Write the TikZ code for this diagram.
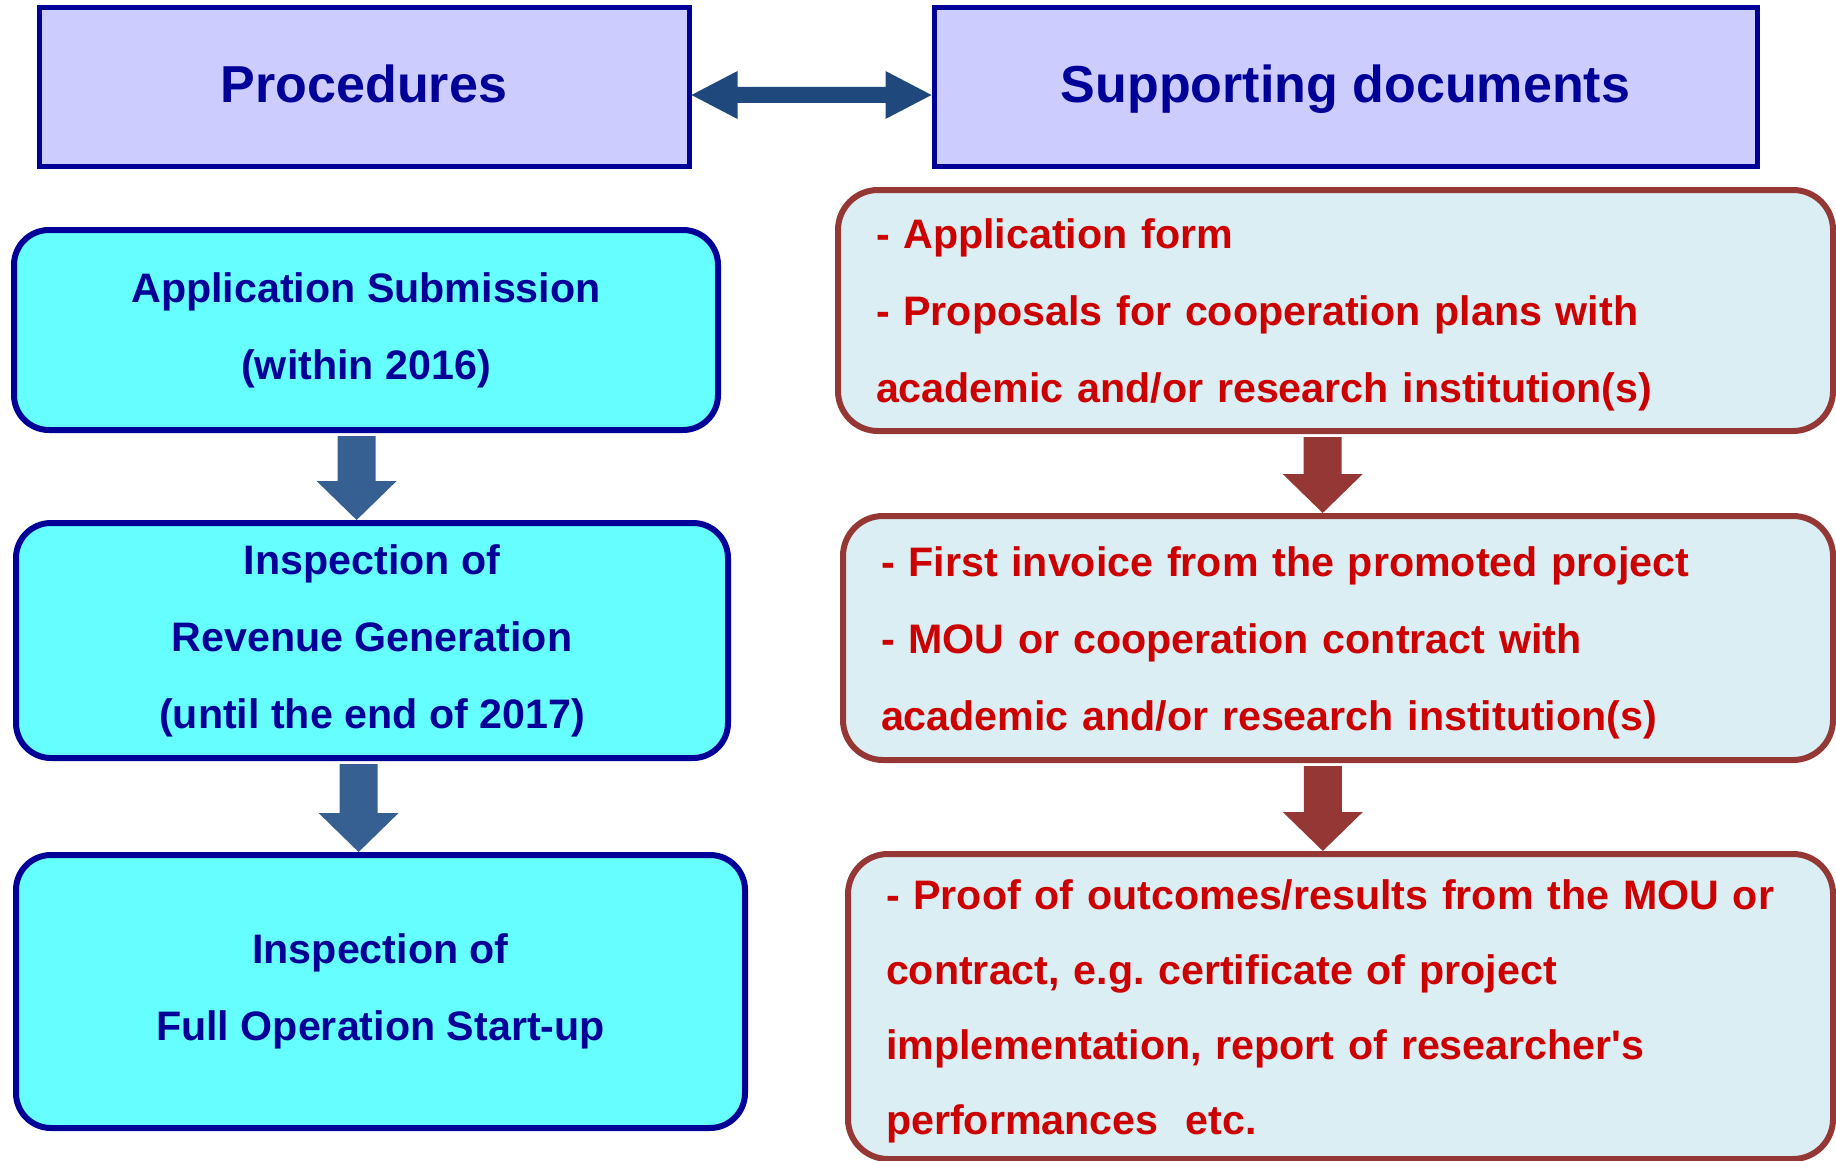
\documentclass[tikz,border=0pt]{standalone}
\usepackage{fontspec}
\setmainfont{Liberation Sans}
\usetikzlibrary{calc}
\definecolor{HeadFillClr}{RGB}{204,204,255}
\definecolor{NavyClr}{RGB}{0,0,153}
\definecolor{StepFillClr}{RGB}{102,255,255}
\definecolor{DocFillClr}{RGB}{219,238,244}
\definecolor{DocLineClr}{RGB}{149,55,53}
\definecolor{DocTextClr}{RGB}{204,0,0}
\definecolor{LinkClr}{RGB}{31,73,125}
\definecolor{StepArrowClr}{RGB}{55,96,146}
\frenchspacing

% block arrow from the bottom of one box to the top of the next
\newcommand{\StepArrow}[4]{%
  \fill[#3] let \p1=($(#1.south)+(#4,0)$), \p2=(#2.north) in
    (\x1-9.5pt,\y1-1.5pt) -- (\x1+9.5pt,\y1-1.5pt) -- (\x1+9.5pt,\y2+19.5pt)
    -- (\x1+20pt,\y2+19.5pt) -- (\x1,\y2) -- (\x1-20pt,\y2+19.5pt)
    -- (\x1-9.5pt,\y2+19.5pt) -- cycle;}

\begin{document}
\begin{tikzpicture}[x=0.5pt,y=-0.5pt,
  headbox/.style={draw=NavyClr,fill=HeadFillClr,line width=2.5pt,minimum height=79pt,
    text=NavyClr,text height=21.5pt,text depth=5.5pt,font=\fontsize{26}{31}\selectfont\bfseries},
  stepbox/.style={draw=NavyClr,fill=StepFillClr,line width=3pt,rounded corners=17.5pt,
    text=NavyClr,align=center,execute at begin node={\rule{0pt}{19.5pt}},
    font=\fontsize{20.6}{38.5}\selectfont\bfseries},
  docbox/.style={draw=DocLineClr,fill=DocFillClr,line width=3pt,rounded corners=20pt,
    text=DocTextClr,align=left,inner xsep=19pt,execute at begin node={\rule{0pt}{19.5pt}},
    font=\fontsize{20.6}{38.4}\selectfont\bfseries}]
\useasboundingbox (0,0) rectangle (1836,1161);

\node[headbox,minimum width=325pt] (proc) at (364,87) {Procedures};
\node[headbox,minimum width=411.5pt] (supp) at (1345.5,87) {Supporting documents};

\node[stepbox,minimum width=352pt,minimum height=100pt] (subm) at (366,330)
  {Application Submission\\(within 2016)};
\node[stepbox,minimum width=356pt,minimum height=117.5pt] (revn) at (372,640.5)
  {Inspection of\\Revenue Generation\\(until the end of 2017)};
\node[stepbox,minimum width=364.5pt,minimum height=136.5pt] (oper) at (380.5,991.5)
  {Inspection of\\Full Operation Start-up};

\node[docbox,minimum width=497.5pt,text width=459.5pt,minimum height=120.5pt] (docA) at (1335.5,310.5)
  {- Application form\\- Proposals for cooperation plans with\\academic and/or research institution(s)};
\node[docbox,minimum width=495pt,text width=457pt,minimum height=122pt] (docB) at (1338,638)
  {- First invoice from the promoted project\\- MOU or cooperation contract with\\academic and/or research institution(s)};
\node[docbox,minimum width=492.5pt,text width=454.5pt,minimum height=152.5pt,
  font=\fontsize{20.6}{37.5}\selectfont\bfseries] (docC) at (1340.5,1006.5)
  {- Proof of outcomes/results from the MOU or\\contract, e.g. certificate of project\\implementation, report of researcher\textquotesingle s\\performances\ \ etc.};

\fill[LinkClr] let \p1=($(proc.east)+(0,-4pt)$), \p2=($(supp.west)+(0,-4pt)$) in
  (\x1,\y1) -- (\x1+23pt,\y1+12pt) -- (\x1+23pt,\y1+4pt) -- (\x2-23pt,\y2+4pt)
  -- (\x2-23pt,\y2+12pt) -- (\x2,\y2) -- (\x2-23pt,\y2-12pt) -- (\x2-23pt,\y2-4pt)
  -- (\x1+23pt,\y1-4pt) -- (\x1+23pt,\y1-12pt) -- cycle;

\StepArrow{subm}{revn}{StepArrowClr}{-4.7pt}
\StepArrow{revn}{oper}{StepArrowClr}{-6.7pt}
\StepArrow{docA}{docB}{DocLineClr}{-6.4pt}
\StepArrow{docB}{docC}{DocLineClr}{-7.6pt}

\end{tikzpicture}
\end{document}
